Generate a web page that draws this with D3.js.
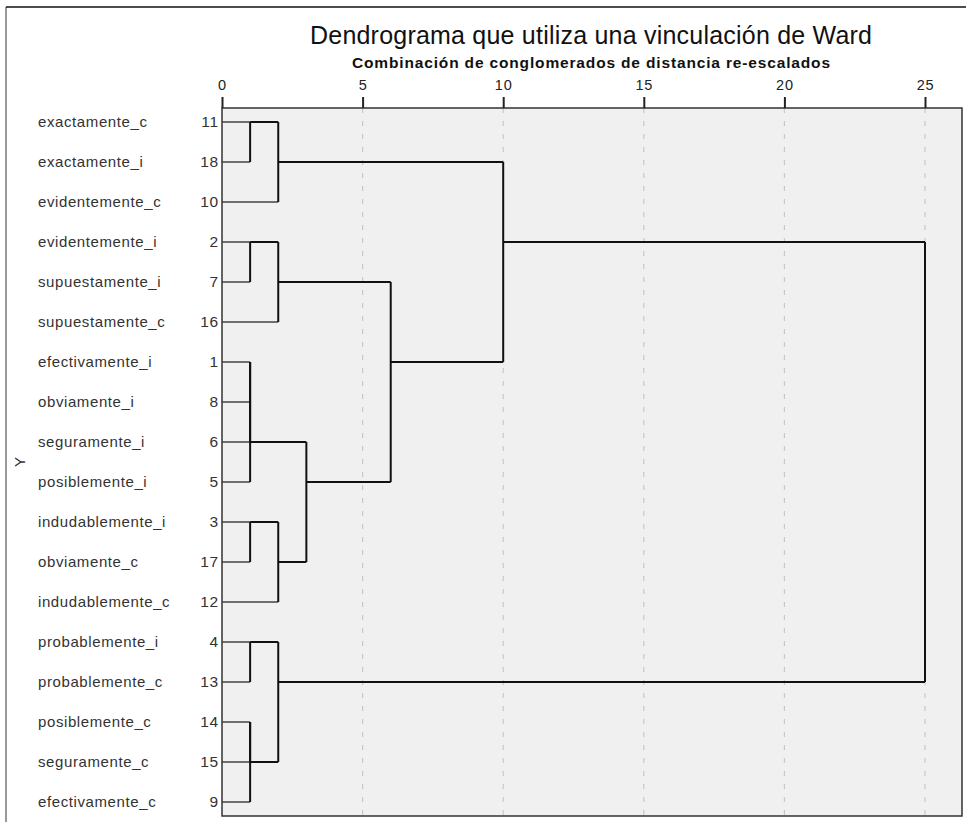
<!DOCTYPE html>
<html>
<head>
<meta charset="utf-8">
<script src="https://cdn.jsdelivr.net/npm/d3@7"></script>
<style>
  body { margin: 0; background: #fff; }
  text { font-family: "Liberation Sans", Arial, sans-serif; }
</style>
</head>
<body>
<svg width="966" height="822"></svg>
<script>
// leaves, top to bottom
const names = ["exactamente_c", "exactamente_i", "evidentemente_c", "evidentemente_i",
  "supuestamente_i", "supuestamente_c", "efectivamente_i", "obviamente_i", "seguramente_i",
  "posiblemente_i", "indudablemente_i", "obviamente_c", "indudablemente_c", "probablemente_i",
  "probablemente_c", "posiblemente_c", "seguramente_c", "efectivamente_c"]
const caseNums = [11, 18, 10, 2, 7, 16, 1, 8, 6, 5, 3, 17, 12, 4, 13, 14, 15, 9]

// merges: [node a, node b, rescaled distance]; ids < 18 are leaves, 18+ are earlier merges
const merges = [
  [0, 1, 1], [18, 2, 2], [3, 4, 1], [20, 5, 2],
  [6, 7, 1], [22, 8, 1], [23, 9, 1],
  [10, 11, 1], [25, 12, 2], [24, 26, 3], [21, 27, 6], [19, 28, 10],
  [13, 14, 1], [15, 16, 1], [31, 17, 1], [30, 32, 2], [29, 33, 25]
]
const ticks = [0, 5, 10, 15, 20, 25]

const svg = d3.select("svg")
const pLeft = 222, pRight = 962, pTop = 108, pBottom = 816

// outer frame
svg.append("line").attr("x1", 6).attr("y1", 7).attr("x2", 6).attr("y2", 822)
  .attr("stroke", "#777").attr("stroke-width", 1.5)
svg.append("line").attr("x1", 6).attr("y1", 7).attr("x2", 966).attr("y2", 7)
  .attr("stroke", "#111").attr("stroke-width", 1.5)

const x = d3.scaleLinear().domain([0, 25]).range([pLeft, 925])
const y = d3.scalePoint().domain(d3.range(names.length)).range([pTop, pBottom]).padding(0.35)

// plot background
svg.append("rect")
  .attr("x", pLeft).attr("y", pTop)
  .attr("width", pRight - pLeft).attr("height", pBottom - pTop)
  .attr("fill", "#f0f0f0")

// dashed grid
svg.append("g").selectAll("line")
  .data(ticks.slice(1))
  .join("line")
  .attr("x1", d => x(d)).attr("x2", d => x(d))
  .attr("y1", pTop).attr("y2", pBottom)
  .attr("stroke", "#c8c8c8").attr("stroke-width", 1.2)
  .attr("stroke-dasharray", "5,8")

// nodes
let nodes = names.map((n, i) => ({ row: i, h: 0, leaf: true }))
merges.forEach(m => {
  const a = nodes[m[0]], b = nodes[m[1]]
  nodes.push({ row: Math.floor((a.row + b.row) / 2), h: m[2], a: a, b: b })
})

const g = svg.append("g").attr("fill", "none")
nodes.filter(d => !d.leaf).forEach(m => {
  [m.a, m.b].forEach(c => {
    g.append("line")
      .attr("x1", x(c.h)).attr("x2", x(m.h))
      .attr("y1", y(c.row)).attr("y2", y(c.row))
      .attr("stroke", c.leaf ? "#444" : "#111")
      .attr("stroke-width", c.leaf ? 1.5 : 2)
  })
  g.append("line")
    .attr("x1", x(m.h)).attr("x2", x(m.h))
    .attr("y1", y(Math.min(m.a.row, m.b.row))).attr("y2", y(Math.max(m.a.row, m.b.row)))
    .attr("stroke", "#111").attr("stroke-width", 2)
})

// plot border
svg.append("rect")
  .attr("x", pLeft).attr("y", pTop)
  .attr("width", pRight - pLeft).attr("height", pBottom - pTop)
  .attr("fill", "none").attr("stroke", "#333").attr("stroke-width", 1.5)

// top axis
const axis = svg.append("g")
  .attr("transform", `translate(0,${pTop})`)
  .call(d3.axisTop(x).tickValues(ticks).tickSize(11).tickPadding(7))
axis.select(".domain").remove()
axis.selectAll(".tick line").attr("stroke", "#222").attr("stroke-width", 2)
axis.selectAll(".tick text")
  .attr("font-size", 14.5).attr("fill", "#222")
  .attr("font-family", "Liberation Sans, Arial, sans-serif")
  .style("letter-spacing", "0.8px")

// leaf labels
svg.append("g").selectAll("text")
  .data(names)
  .join("text")
  .attr("x", 38).attr("y", (d, i) => y(i))
  .attr("dy", "0.35em")
  .attr("font-size", 15).attr("fill", "#333")
  .style("letter-spacing", "0.6px")
  .text(d => d)

svg.append("g").selectAll("text")
  .data(caseNums)
  .join("text")
  .attr("x", 219).attr("y", (d, i) => y(i))
  .attr("dy", "0.35em")
  .attr("text-anchor", "end")
  .attr("font-size", 15.5).attr("fill", "#333")
  .style("letter-spacing", "0.8px")
  .text(d => d)

svg.append("text")
  .attr("transform", `translate(25,${(pTop + pBottom) / 2}) rotate(-90)`)
  .attr("text-anchor", "middle")
  .attr("font-size", 15).attr("fill", "#333")
  .text("Y")

// titles
svg.append("text")
  .attr("x", 591).attr("y", 44)
  .attr("text-anchor", "middle")
  .attr("font-size", 25).attr("fill", "#111")
  .attr("textLength", 562).attr("lengthAdjust", "spacing")
  .text("Dendrograma que utiliza una vinculación de Ward")

svg.append("text")
  .attr("x", 591).attr("y", 68)
  .attr("text-anchor", "middle")
  .attr("font-size", 15.5).attr("font-weight", "bold").attr("fill", "#111")
  .attr("textLength", 478).attr("lengthAdjust", "spacing")
  .text("Combinación de conglomerados de distancia re-escalados")
</script>
</body>
</html>
